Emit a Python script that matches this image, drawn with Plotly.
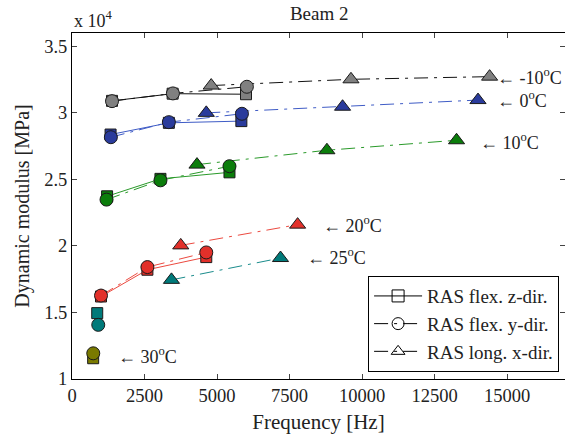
import plotly.graph_objects as go

# ---- data (frequency in Hz, dynamic modulus in MPa) ----
temps = ["-10", "0", "10", "20", "25", "30"]

sq_f = {"-10": [1380, 3470, 6000], "0": [1330, 3340, 5840], "10": [1210, 3050, 5430],
        "20": [1000, 2600, 4630], "25": [870], "30": [730]}
sq_e = {"-10": [30900, 31440, 31400], "0": [28370, 29250, 29380], "10": [23730, 25040, 25530],
        "20": [16200, 18210, 19160], "25": [14950], "30": [11560]}

ci_f = {"-10": [1380, 3480, 6030], "0": [1340, 3340, 5860], "10": [1190, 3050, 5430],
        "20": [1000, 2600, 4630], "25": [905], "30": [733]}
ci_e = {"-10": [30880, 31460, 31960], "0": [28170, 29300, 29930], "10": [23480, 24930, 25990],
        "20": [16270, 18410, 19510], "25": [14070], "30": [11930]}

tr_f = {"-10": [4800, 9620, 14400], "0": [4630, 9330, 14000], "10": [4310, 8790, 13260],
        "20": [3750, 7780], "25": [3430, 7190], "30": []}
tr_e = {"-10": [32050, 32520, 32720], "0": [30000, 30460, 30960], "10": [26110, 27190, 27940],
        "20": [20040, 21600], "25": [17450, 19090], "30": []}

fill_col = {"-10": "#808080", "0": "#2a3b9c", "10": "#0b7d0b", "20": "#e2302a",
            "25": "#007a7a", "30": "#7a7a00"}
line_col = {"-10": "#111111", "0": "#3f5cc6", "10": "#2a9a2a", "20": "#ec4a40",
            "25": "#1a8c8c", "30": "#8a8a10"}

label_txt = {"-10": "← -10<sup>o</sup>C", "0": "← 0<sup>o</sup>C", "10": "← 10<sup>o</sup>C",
             "20": "← 20<sup>o</sup>C", "25": "← 25<sup>o</sup>C", "30": "← 30<sup>o</sup>C"}
label_f = {"-10": 16980, "0": 14600, "10": 14000, "20": 8600, "25": 8020, "30": 1500}
label_e = {"-10": 32740, "0": 31000, "10": 27850, "20": 21600, "25": 19210, "30": 11730}
label_anchor = {"-10": "right", "0": "left", "10": "left", "20": "left", "25": "left", "30": "left"}

x_ticks = [0, 2500, 5000, 7500, 10000, 12500, 15000]
x_tick_text = ["0", "2500", "5000", "7500", "10000", "12500", "15000"]
y_ticks = [10000, 15000, 20000, 25000, 30000, 35000]
y_tick_text = ["1", "1.5", "2", "2.5", "3", "3.5"]

legend_names = ["RAS flex. z-dir.", "RAS flex. y-dir.", "RAS long. x-dir."]

FONT = "Liberation Serif"
DASHDOT = "14px,6px,3px,6px"

fig = go.Figure()

for t in temps:
    fc, lc = fill_col[t], line_col[t]
    # triangles (dash-dot)
    if tr_f[t]:
        fig.add_trace(go.Scatter(x=tr_f[t], y=tr_e[t], mode="lines+markers",
                                 line=dict(color=lc, width=1, dash=DASHDOT),
                                 marker=dict(symbol="triangle-up", size=14, color=fc,
                                             line=dict(color="#1a1a1a", width=1)),
                                 showlegend=False, hoverinfo="skip"))
    # squares (solid)
    fig.add_trace(go.Scatter(x=sq_f[t], y=sq_e[t], mode="lines+markers",
                             line=dict(color=lc, width=1),
                             marker=dict(symbol="square", size=11, color=fc,
                                         line=dict(color="#1a1a1a", width=1)),
                             showlegend=False, hoverinfo="skip"))
    # circles (dash-dot)
    fig.add_trace(go.Scatter(x=ci_f[t], y=ci_e[t], mode="lines+markers",
                             line=dict(color=lc, width=1, dash=DASHDOT),
                             marker=dict(symbol="circle", size=13, color=fc,
                                         line=dict(color="#1a1a1a", width=1)),
                             showlegend=False, hoverinfo="skip"))
    fig.add_annotation(x=label_f[t], y=label_e[t], text=label_txt[t], showarrow=False,
                       xanchor=label_anchor[t], yanchor="middle",
                       font=dict(family=FONT, size=18, color="#222"))

# legend entries
leg_sym = ["square-open", "circle-open", "triangle-up-open"]
leg_dash = ["solid", DASHDOT, DASHDOT]
for name, sym, d in zip(legend_names, leg_sym, leg_dash):
    fig.add_trace(go.Scatter(x=[None], y=[None], mode="lines+markers", name=name,
                             line=dict(color="black", width=1, dash=d),
                             marker=dict(symbol=sym, size=12, color="black",
                                         line=dict(color="black", width=1))))

fig.add_annotation(x=0, y=1, xref="paper", yref="paper", text="x 10<sup>4</sup>",
                   showarrow=False, xanchor="left", yanchor="bottom", yshift=0,
                   font=dict(family=FONT, size=18, color="#222"))

fig.update_layout(
    width=565, height=436,
    margin=dict(l=72, r=0, t=33, b=57),
    paper_bgcolor="white", plot_bgcolor="white",
    font=dict(family=FONT, size=18, color="#222"),
    title=dict(text="Beam 2", x=0.565, xanchor="center", y=0.985, yanchor="top",
               font=dict(family=FONT, size=19)),
    showlegend=True,
    legend=dict(x=0.988, y=0.02, xanchor="right", yanchor="bottom",
                bgcolor="white", bordercolor="black", borderwidth=1,
                font=dict(family=FONT, size=19), tracegroupgap=0, itemwidth=48),
)
fig.update_xaxes(range=[0, 17000], tickvals=x_ticks, ticktext=x_tick_text,
                 ticks="inside", ticklen=5,
                 showline=True, linecolor="black", linewidth=1, mirror="ticks",
                 showgrid=False, zeroline=False, tickfont=dict(family=FONT, size=18.5),
                 title=dict(text="Frequency [Hz]", standoff=9, font=dict(family=FONT, size=21)))
fig.update_yaxes(range=[10000, 36000], tickvals=y_ticks, ticktext=y_tick_text,
                 ticks="inside", ticklen=5,
                 showline=True, linecolor="black", linewidth=1, mirror="ticks",
                 showgrid=False, zeroline=False, tickfont=dict(family=FONT, size=18.5),
                 title=dict(text="Dynamic modulus [MPa]", standoff=9,
                            font=dict(family=FONT, size=20)))

fig.write_html("out.html")
